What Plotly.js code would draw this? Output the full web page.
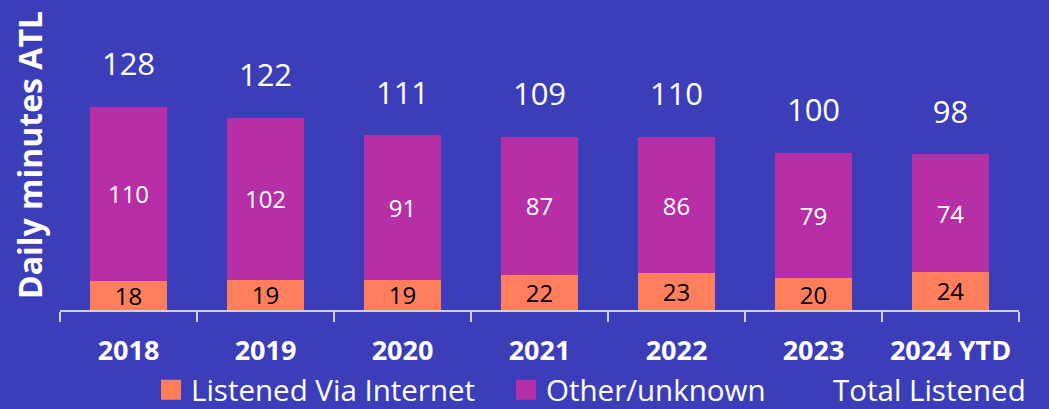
<!DOCTYPE html>
<html>
<head>
<meta charset="utf-8">
<script src="https://cdn.plot.ly/plotly-3.0.1.min.js"></script>
<style>html,body{margin:0;padding:0;background:#3C3EB9;}#chart{width:1049px;height:409px;}</style>
</head>
<body>
<div id="chart"></div>
<script>
const categories = ['2018', '2019', '2020', '2021', '2022', '2023', '2024 YTD'];
const viaInternet = [18, 19, 19, 22, 23, 20, 24];
const otherUnknown = [110, 102, 91, 87, 86, 79, 74];
const totalListened = [128, 122, 111, 109, 110, 100, 98];
const seriesNames = ['Listened Via Internet', 'Other/unknown', 'Total Listened'];

const FONT = 'Open Sans, Noto Sans, sans-serif';
const BG = '#3C3EB9';
const ORANGE = '#FF7F5D';
const PURPLE = '#B72FA6';

const stackTops = categories.map((c, i) => viaInternet[i] + otherUnknown[i]);

const traces = [
  {
    type: 'bar', name: seriesNames[0], x: categories, y: viaInternet,
    marker: {color: ORANGE}, showlegend: false, legendgroup: 'a',
    text: viaInternet.map(String), textposition: 'inside', insidetextanchor: 'middle',
    textangle: 0, constraintext: 'none',
    insidetextfont: {family: FONT, size: 24, color: '#000000'},
    hoverinfo: 'skip'
  },
  {
    type: 'bar', name: seriesNames[1], x: categories, y: otherUnknown,
    marker: {color: PURPLE}, showlegend: false, legendgroup: 'b',
    text: otherUnknown.map(String), textposition: 'inside', insidetextanchor: 'middle',
    textangle: 0, constraintext: 'none',
    insidetextfont: {family: FONT, size: 24, color: '#FFFFFF'},
    hoverinfo: 'skip'
  },
  // legend keys (larger squares than the default bar key)
  {
    type: 'scatter', mode: 'markers', name: seriesNames[0], x: [null], y: [null],
    legendgroup: 'a', legendwidth: 310,
    marker: {symbol: 'square', size: 16, color: ORANGE, line: {color: ORANGE, width: 4}},
    hoverinfo: 'skip'
  },
  {
    type: 'scatter', mode: 'markers', name: seriesNames[1], x: [null], y: [null],
    legendgroup: 'b', legendwidth: 242,
    marker: {symbol: 'square', size: 16, color: PURPLE, line: {color: PURPLE, width: 4}},
    hoverinfo: 'skip'
  },
  // total labels sit on transparent markers at the top of each stack
  {
    type: 'scatter', mode: 'markers+text', name: seriesNames[2], x: categories, y: stackTops,
    marker: {symbol: 'square', size: 36, color: 'rgba(0,0,0,0)', line: {width: 0}},
    text: totalListened.map(String), textposition: 'top center',
    textfont: {family: FONT, size: 31, color: '#FFFFFF'},
    cliponaxis: false,
    hoverinfo: 'skip'
  }
];

const layout = {
  width: 1049, height: 409,
  paper_bgcolor: BG, plot_bgcolor: BG,
  margin: {l: 60, r: 30, t: 0, b: 99},
  barmode: 'stack', bargap: 0.44,
  showlegend: true,
  legend: {
    orientation: 'h', xref: 'paper', x: 0.0949, xanchor: 'left',
    yref: 'container', y: 0.0465, yanchor: 'middle',
    font: {family: FONT, size: 29.5, color: '#FFFFFF'},
    itemsizing: 'trace',
    traceorder: 'normal', bgcolor: 'rgba(0,0,0,0)'
  },
  xaxis: {
    type: 'category', categoryorder: 'array', categoryarray: categories,
    range: [-0.5, categories.length - 0.5],
    tickson: 'boundaries', ticks: 'outside', ticklen: 10, tickwidth: 2,
    tickcolor: '#D0D0D8', showline: true, linecolor: '#D0D0D8', linewidth: 2,
    showgrid: false, zeroline: false, tickangle: 0,
    tickfont: {family: FONT, size: 27, color: '#FFFFFF', weight: 'bold'},
    ticklabelstandoff: 16,
    fixedrange: true
  },
  yaxis: {
    range: [0, 195], showticklabels: false, ticks: '', showgrid: false, zeroline: false,
    showline: false, fixedrange: true,
    title: {text: 'Daily minutes ATL', standoff: 6, font: {family: FONT, size: 32, color: '#FFFFFF', weight: 'bold'}}
  }
};

Plotly.newPlot('chart', traces, layout, {displayModeBar: false, staticPlot: true});
</script>
</body>
</html>
